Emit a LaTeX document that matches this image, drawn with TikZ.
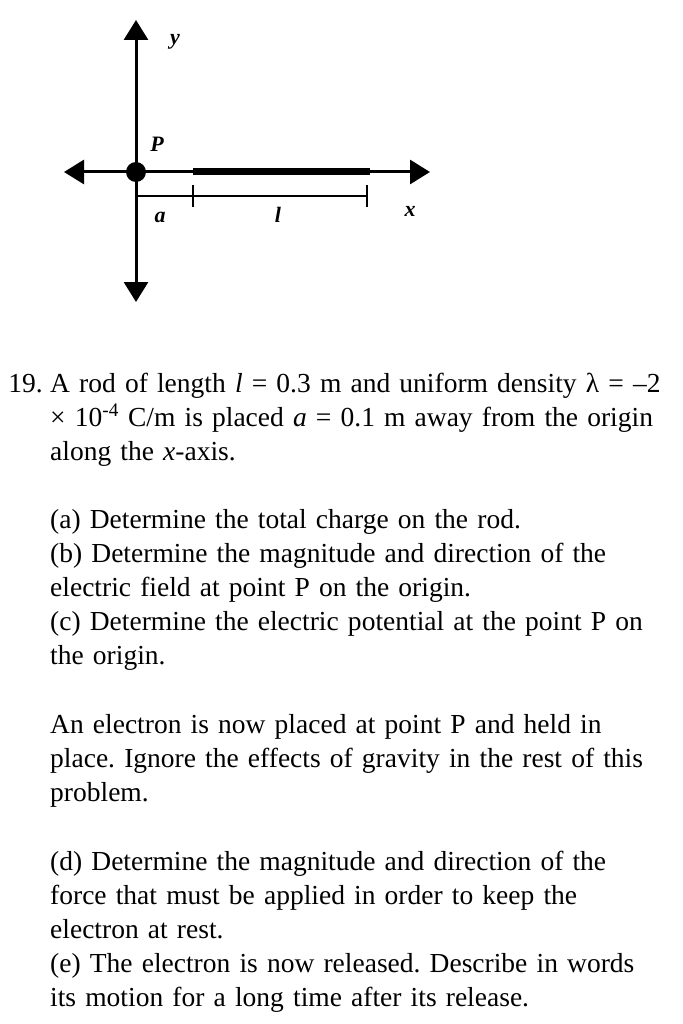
\documentclass[tikz,border=0pt]{standalone}
\usepackage{fontspec}
\setmainfont{Liberation Serif}
\usetikzlibrary{arrows.meta, positioning, calc}
\frenchspacing

\begin{document}
\begin{tikzpicture}[x=1pt, y=-1pt, font=\fontsize{27.5}{34}\selectfont,
  axis/.style = {line width=3pt, {Triangle[width=24pt,length=20pt]}-{Triangle[width=24pt,length=20pt]}},
  dimline/.style = {line width=1.5pt},
  rod/.style = {line width=7pt},
  lbl/.style = {font=\fontsize{22}{22}\selectfont\bfseries\itshape, inner sep=0pt},
  para/.style = {anchor=base west, align=left, inner sep=0pt, text width=640pt}
]
\useasboundingbox (0,0) rectangle (682,1024);
% figure
\coordinate (O) at (136,172);
\coordinate (left) at (64,172);
\coordinate (right) at (430,172);
\coordinate (top) at (136,20);
\coordinate (bottom) at (136,302);
\coordinate (rodA) at (193,172);
\coordinate (rodB) at (370,172);
\coordinate (dimA) at (136,196);
\coordinate (dimB) at (193,196);
\coordinate (dimC) at (367,196);
\draw[axis] (left) -- (right);
\draw[axis] (bottom) -- (top);
\draw[rod] (rodA) -- (rodB);
\fill (O) circle (10pt);
\draw[dimline] (dimA) -- (dimC);
\draw[dimline] ($(dimB)+(0,-11)$) -- ($(dimB)+(0,11)$);
\draw[dimline] ($(dimC)+(0,-11)$) -- ($(dimC)+(0,11)$);
\node[lbl] (ylbl) at (175,42) {y};
\node[lbl] (plbl) at (157,144) {P};
\node[lbl] (albl) at (160,217) {a};
\node[lbl] (llbl) at (278,215) {l};
\node[lbl] (xlbl) at (410,211) {x};
% text
\node[anchor=base east, inner sep=0pt] (num) at (43,392) {19.};
\node[para, text width=630pt] (q) at (50,392) {A rod of length \textit{l} = 0.3 m and uniform density λ = –2\\
× 10\textsuperscript{-4} C/m is placed \textit{a} = 0.1 m away from the origin\\
along the \textit{x}-axis.};
\node[para] (qa) at (50,528) {(a) Determine the total charge on the rod.\\
(b) Determine the magnitude and direction of the\\
electric field at point P on the origin.\\
(c) Determine the electric potential at the point P on\\
the origin.};
\node[para] (qe) at (50,733) {An electron is now placed at point P and held in\\
place. Ignore the effects of gravity in the rest of this\\
problem.};
\node[para] (qd) at (50,870) {(d) Determine the magnitude and direction of the\\
force that must be applied in order to keep the\\
electron at rest.\\
(e) The electron is now released. Describe in words\\
its motion for a long time after its release.};
\end{tikzpicture}
\end{document}
